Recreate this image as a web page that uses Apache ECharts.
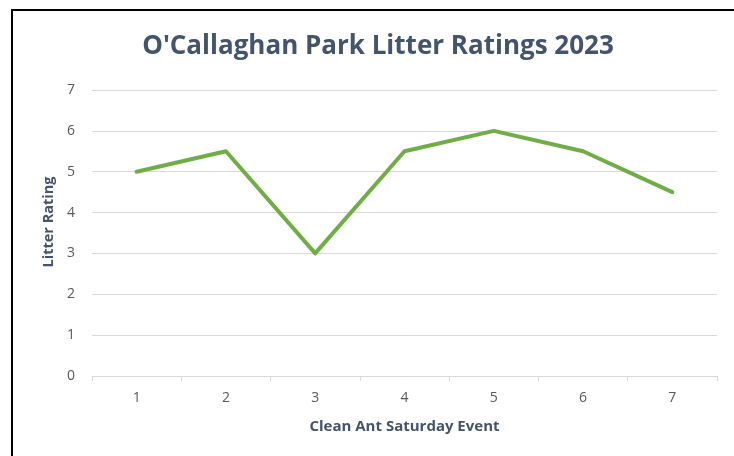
<!DOCTYPE html>
<html>
<head>
<meta charset="utf-8">
<script src="https://cdn.jsdelivr.net/npm/echarts@6/dist/echarts.min.js"></script>
<style>
  html, body { margin: 0; padding: 0; background: #fff; }
  #frame {
    position: absolute; left: 11px; top: 9px;
    width: 800px; height: 500px;
    border-left: 2px solid #000; border-top: 2px solid #000;
  }
  #chart { position: absolute; left: 0; top: 0; width: 734px; height: 456px; }
</style>
</head>
<body>
<div id="frame"></div>
<div id="chart"></div>
<script>
  // 数据
  const events = ['1', '2', '3', '4', '5', '6', '7'];
  const ratings = [5, 5.5, 3, 5.5, 6, 5.5, 4.5];

  const textColor = '#44546a';
  const labelColor = '#595959';
  const font = '"Open Sans", "Liberation Sans", sans-serif';

  const chart = echarts.init(document.getElementById('chart'));
  chart.setOption({
    animation: false,
    title: {
      text: "O'Callaghan Park Litter Ratings 2023",
      left: 373,
      top: 29,
      textAlign: 'center',
      textStyle: { fontFamily: font, fontSize: 26, fontWeight: 'bold', color: textColor }
    },
    graphic: [{
      type: 'text',
      x: 49,
      y: 222,
      rotation: Math.PI / 2,
      style: {
        text: 'Litter Rating',
        fontFamily: font, fontSize: 14.5, fontWeight: 'bold', fill: textColor,
        align: 'center', verticalAlign: 'middle'
      }
    }],
    grid: { left: 92, right: 17, top: 90, bottom: 80 },
    xAxis: {
      type: 'category',
      data: events,
      boundaryGap: true,
      name: 'Clean Ant Saturday Event',
      nameLocation: 'middle',
      nameGap: 43,
      nameTextStyle: { fontFamily: font, fontSize: 15, fontWeight: 'bold', color: textColor },
      axisLine: { lineStyle: { color: '#d9d9d9', width: 1 } },
      axisTick: { show: true, length: 5, lineStyle: { color: '#d9d9d9' } },
      axisLabel: { fontFamily: font, fontSize: 14, color: labelColor, margin: 15 }
    },
    yAxis: {
      type: 'value',
      min: 0,
      max: 7,
      interval: 1,
      axisLine: { show: false },
      axisTick: { show: false },
      axisLabel: { fontFamily: font, fontSize: 14, color: labelColor, margin: 17 },
      splitLine: { lineStyle: { color: '#d9d9d9', width: 1 } }
    },
    series: [{
      type: 'line',
      data: ratings,
      symbol: 'none',
      lineStyle: { color: '#70ad47', width: 4, cap: 'round', join: 'round' }
    }]
  });
</script>
</body>
</html>
